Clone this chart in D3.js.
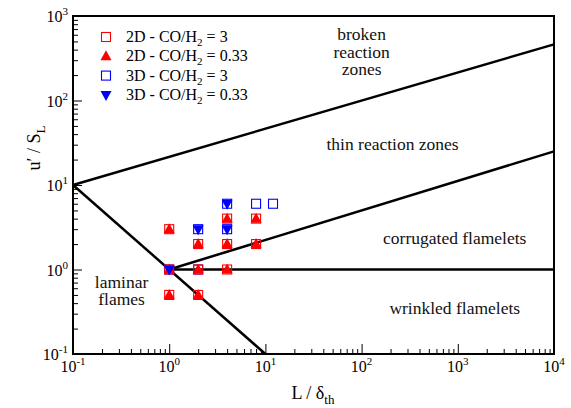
<!DOCTYPE html>
<html><head><meta charset="utf-8">
<script src="https://cdn.jsdelivr.net/npm/d3@7"></script>
</head>
<body style="margin:0">
<script>
// ---- data ----
const xTickValues = [0.1, 1, 10, 100, 1000, 10000];
const xTickExps = ["-1", "0", "1", "2", "3", "4"];
const yTickValues = [0.1, 1, 10, 100, 1000];
const yTickExps = ["-1", "0", "1", "2", "3"];

// regime boundaries (L/delta, u'/SL)
const lineRe1 = [[0.1, 10], [10, 0.1]];
const lineKa1 = [[1, 1], [10000, 25]];
const lineKa100 = [[0.1, 10], [10000, 462]];
const lineDa1 = [[1, 1], [10000, 1]];

// simulation cases
const series2D_3_x = [1, 1, 1, 2, 2, 2, 4, 4, 4, 8, 8];
const series2D_3_y = [0.5, 1, 3, 0.5, 1, 2, 1, 2, 4, 2, 4];
const series2D_033_x = [1, 1, 1, 2, 2, 2, 4, 4, 4, 8, 8];
const series2D_033_y = [0.5, 1, 3, 0.5, 1, 2, 1, 2, 4, 2, 4];
const series3D_3_x = [1, 2, 2, 4, 4, 8, 12];
const series3D_3_y = [1, 1, 3, 3, 6, 6, 6];
const series3D_033_x = [1, 2, 4, 4];
const series3D_033_y = [1, 3, 3, 6];

const regionLabels = [
  {lines: ["broken", "reaction", "zones"], x: 100, y: 516},
  {lines: ["thin reaction zones"], x: 210, y: 26},
  {lines: ["corrugated flamelets"], x: 930, y: 2.0},
  {lines: ["wrinkled flamelets"], x: 930, y: 0.30},
  {lines: ["laminar", "flames"], x: 0.32, y: 0.61}
];

const legendItems = [
  {pre: "2D - CO/H", post: " = 3", color: "#ff0000", shape: "square"},
  {pre: "2D - CO/H", post: " = 0.33", color: "#ff0000", shape: "up"},
  {pre: "3D - CO/H", post: " = 3", color: "#0000ff", shape: "square"},
  {pre: "3D - CO/H", post: " = 0.33", color: "#0000ff", shape: "down"}
];

// ---- layout ----
const W = 571, H = 408;
const m = {left: 73, right: 554, top: 16, bottom: 354};

const svg = d3.select("body").append("svg").attr("width", W).attr("height", H);

const x = d3.scaleLog().domain([0.1, 10000]).range([m.left, m.right]);
const y = d3.scaleLog().domain([0.1, 1000]).range([m.bottom, m.top]);

function minors(lo, hi) {
  const out = [];
  for (let e = Math.log10(lo); e < Math.log10(hi); e++) {
    for (let k = 2; k <= 9; k++) out.push(k * Math.pow(10, e));
  }
  return out;
}

// axes (ticks pointing inward)
const gx = svg.append("g").attr("transform", `translate(0,${m.bottom})`);
gx.call(d3.axisBottom(x).tickValues(xTickValues).tickSize(-10).tickFormat(""));
const gxm = svg.append("g").attr("transform", `translate(0,${m.bottom})`);
gxm.call(d3.axisBottom(x).tickValues(minors(0.1, 10000)).tickSize(-5).tickFormat(""));
const gy = svg.append("g").attr("transform", `translate(${m.left},0)`);
gy.call(d3.axisLeft(y).tickValues(yTickValues).tickSize(-9).tickFormat(""));
const gym = svg.append("g").attr("transform", `translate(${m.left},0)`);
gym.call(d3.axisLeft(y).tickValues(minors(0.1, 1000)).tickSize(-5).tickFormat(""));
[gx, gxm, gy, gym].forEach(g => {
  g.select(".domain").remove();
  g.selectAll("text").remove();
  g.selectAll("line").attr("stroke", "#000").attr("stroke-width", 1);
});

function txt(sel) {
  return sel.append("text").style("font-family", `"Liberation Serif"`);
}

// tick labels
xTickValues.forEach((v, i) => {
  const t = txt(svg).attr("x", x(v)).attr("y", 372)
    .attr("text-anchor", "middle").attr("font-size", 16);
  t.append("tspan").text("10");
  t.append("tspan").attr("dy", -7).attr("font-size", 11).text(xTickExps[i]);
});
yTickValues.forEach((v, i) => {
  const t = txt(svg).attr("x", 68).attr("y", y(v) + 6)
    .attr("text-anchor", "end").attr("font-size", 16);
  t.append("tspan").text("10");
  t.append("tspan").attr("dy", -7).attr("font-size", 11).text(yTickExps[i]);
});

// frame
svg.append("rect").attr("x", m.left).attr("y", m.top)
  .attr("width", m.right - m.left).attr("height", m.bottom - m.top)
  .attr("fill", "none").attr("stroke", "#000").attr("stroke-width", 2);

// axis titles
const xt = txt(svg).attr("x", 313).attr("y", 399)
  .attr("text-anchor", "middle").attr("font-size", 18);
xt.append("tspan").text("L / δ");
xt.append("tspan").attr("dy", 5).attr("font-size", 13).text("th");

const yt = txt(svg).attr("transform", "translate(40,148) rotate(-90)")
  .attr("text-anchor", "middle").attr("font-size", 18);
yt.append("tspan").text("u′ / S");
yt.append("tspan").attr("dy", 5).attr("font-size", 13).text("L");

// regime lines
const line = d3.line().x(d => x(d[0])).y(d => y(d[1]));
const plot = svg.append("g");
[lineRe1, lineKa1, lineKa100, lineDa1].forEach(d => {
  plot.append("path").attr("d", line(d)).attr("fill", "none")
    .attr("stroke", "#000").attr("stroke-width", 2.5);
});

// region labels
regionLabels.forEach(r => {
  r.lines.forEach((s, i) => {
    txt(svg).attr("text-anchor", "middle").attr("font-size", 17.5).attr("fill", "#111")
      .attr("x", x(r.x)).attr("y", y(r.y) + i * 17.5).text(s);
  });
});

// markers
function drawShape(g, shape, color, cx, cy) {
  if (shape === "square") {
    g.append("rect").attr("x", cx - 4.5).attr("y", cy - 4.5).attr("width", 9).attr("height", 9)
      .attr("fill", "none").attr("stroke", color).attr("stroke-width", 1.1);
  } else if (shape === "up") {
    g.append("path").attr("d", `M${cx},${cy - 6}L${cx + 5.5},${cy + 4}L${cx - 5.5},${cy + 4}Z`)
      .attr("fill", color);
  } else {
    g.append("path").attr("d", `M${cx},${cy + 6}L${cx + 5.5},${cy - 4}L${cx - 5.5},${cy - 4}Z`)
      .attr("fill", color);
  }
}
const mk = svg.append("g");
series3D_3_x.forEach((v, i) => drawShape(mk, "square", "#0000ff", x(v), y(series3D_3_y[i])));
series2D_3_x.forEach((v, i) => drawShape(mk, "square", "#ff0000", x(v), y(series2D_3_y[i])));
series2D_033_x.forEach((v, i) => drawShape(mk, "up", "#ff0000", x(v), y(series2D_033_y[i])));
series3D_033_x.forEach((v, i) => drawShape(mk, "down", "#0000ff", x(v), y(series3D_033_y[i])));

// legend
const lg = svg.append("g");
legendItems.forEach((it, i) => {
  const cy = 37 + i * 19.3;
  drawShape(lg, it.shape, it.color, 106, cy);
  const t = txt(lg).attr("x", 126).attr("y", cy + 5).attr("font-size", 16);
  t.append("tspan").text(it.pre);
  t.append("tspan").attr("dy", 4).attr("font-size", 11).text("2");
  t.append("tspan").attr("dy", -4).text(it.post);
});
</script>
</body></html>
